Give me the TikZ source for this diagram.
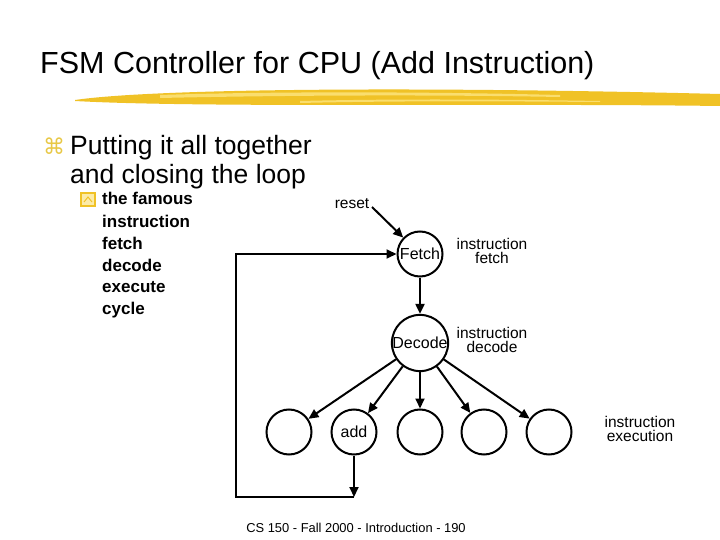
\documentclass[tikz,border=0pt]{standalone}
\usepackage{fontspec}
\setmainfont{Liberation Sans}
\newfontfamily\symfont{DejaVu Sans}
\usetikzlibrary{arrows.meta}
\definecolor{gold}{RGB}{240,194,38}
\definecolor{lightgold}{RGB}{250,222,110}
\definecolor{bulletyellow}{RGB}{232,200,70}
\begin{document}
\begin{tikzpicture}[x=1pt,y=-1pt,
  state/.style={circle,draw,line width=2pt,minimum size=45pt,inner sep=0pt,font=\fontsize{16}{16}\selectfont},
  wire/.style={line width=2pt},
  arr/.style={wire,-{Triangle[length=10pt,width=9pt]}},
  lbl/.style={font=\fontsize{15.5}{14}\selectfont,align=center,inner sep=0pt},
  txt/.style={anchor=base west,inner sep=0pt},
  big/.style={txt,font=\fontsize{26.5}{26.5}\selectfont},
  small/.style={txt,font=\bfseries\fontsize{17}{17}\selectfont},
]
\useasboundingbox[fill=white] (0,0) rectangle (720,540);

% title
\node[txt,font=\fontsize{30.5}{30.5}\selectfont] (title) at (40,74) {FSM Controller for CPU (Add Instruction)};

% brush stroke
\fill[gold] (75,100) .. controls (150,89) and (400,86) .. (720,94)
  -- (720,106) .. controls (500,103) and (200,108) .. (75,101) -- cycle;
\fill[lightgold] (160,95) .. controls (250,92) and (400,91) .. (560,95)
  -- (560,97) .. controls (400,94) and (250,96) .. (160,98) -- cycle;
\fill[lightgold] (300,101) .. controls (380,99) and (480,99) .. (600,101)
  -- (600,102) .. controls (480,101) and (380,101) .. (300,103) -- cycle;

% bullets
\node[txt,text=bulletyellow,font=\symfont\fontsize{22}{22}\selectfont] (b1) at (43,155) {⌘};
\node[big] (l1) at (70,155) {Putting it all together};
\node[big] (l2) at (70,184) {and closing the loop};

\draw[fill=lightgold!60,draw=gold,line width=1.3pt] (81,193) rectangle (95,206);
\draw[gold,line width=1pt] (84,202) -- (88,197) -- (92,202);
\node[small] (s1) at (102,205) {the famous};
\node[small] (s2) at (102,227) {instruction};
\node[small] (s3) at (102,249) {fetch};
\node[small] (s4) at (102,271) {decode};
\node[small] (s5) at (102,292) {execute};
\node[small] (s6) at (102,314) {cycle};

% states
\node[state] (fetch) at (420,254) {Fetch};
\node[state] (dec) at (420,343) {Decode};
\node[state] (c1) at (289,432) {};
\node[state] (add) at (354,432) {add};
\node[state] (c3) at (420,432) {};
\node[state] (c4) at (484,432) {};
\node[state] (c5) at (549,432) {};

% labels
\node[lbl,anchor=base] (reset) at (352,209) {reset};
\node[lbl] (lf) at (492,251) {instruction\\fetch};
\node[lbl] (ld) at (492,340) {instruction\\decode};
\node[lbl] (le) at (640,429) {instruction\\execution};

% connectors
\coordinate (rs) at (372,207);
\draw[arr] (rs) -- (fetch);
\draw[arr] (fetch) -- (dec);
\draw[arr] (dec) -- (c1);
\draw[arr] (dec) -- (add);
\draw[arr] (dec) -- (c3);
\draw[arr] (dec) -- (c4);
\draw[arr] (dec) -- (c5);
\coordinate (lb) at (354,497);
\coordinate (ll) at (236,497);
\draw[arr] (add) -- (lb);
\draw[arr] (lb) -- (ll) |- (fetch);

% footer
\node[txt,anchor=base,font=\fontsize{12.9}{12.9}\selectfont] (foot) at (356,532) {CS 150 - Fall 2000 - Introduction - 190};
\end{tikzpicture}
\end{document}
